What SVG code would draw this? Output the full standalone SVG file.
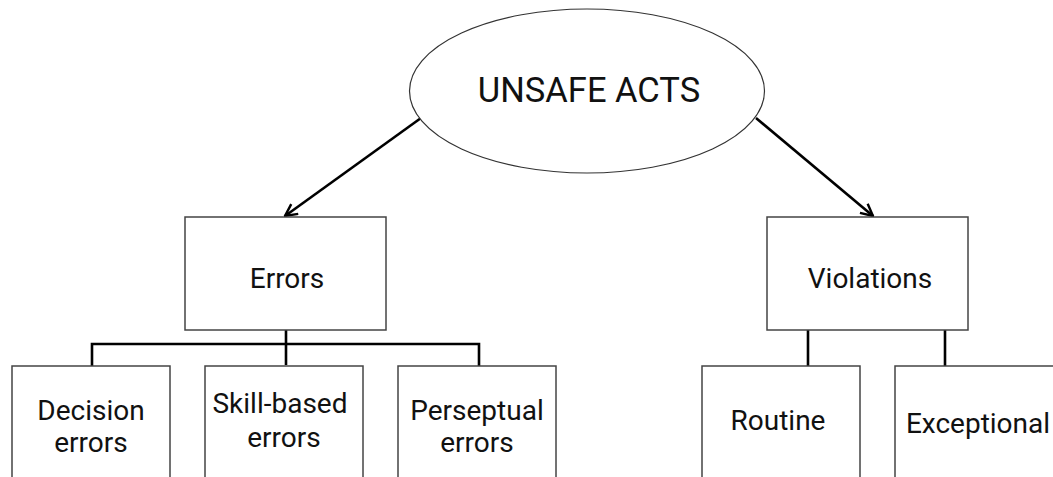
<svg xmlns="http://www.w3.org/2000/svg" width="1053" height="477" viewBox="0 0 1053 477">
  <defs>
    <style>
      .box { fill: #ffffff; stroke: #444444; stroke-width: 1.5; }
      .oval { fill: #ffffff; stroke: #333333; stroke-width: 1.2; }
      .label { font-family: Roboto, "Liberation Sans", sans-serif; font-size: 28px; fill: #111111; text-anchor: middle; }
      .title { font-size: 34.5px; }
      .link { fill: none; stroke: #000000; stroke-width: 2.6; }
    </style>
    <marker id="open-arrow" viewBox="0 0 14 14" refX="13" refY="7" markerWidth="14" markerHeight="14" markerUnits="userSpaceOnUse" orient="auto">
      <path d="M1,1 L13,7 L1,13" fill="none" stroke="#000000" stroke-width="2.4"/>
    </marker>
  </defs>
  <rect width="1053" height="477" fill="#ffffff"/>

  <g id="connectors">
    <line class="link" x1="421" y1="118" x2="285" y2="216" marker-end="url(#open-arrow)"/>
    <line class="link" x1="756" y1="118" x2="873" y2="216" marker-end="url(#open-arrow)"/>
    <path class="link" d="M286,330 V365 M92,366 V344 H479 V366"/>
    <path class="link" d="M808,330 V366 M945,330 V366"/>
  </g>

  <g id="unsafe-acts">
    <ellipse class="oval" cx="587" cy="91" rx="177.5" ry="82"/>
    <text class="label title" x="589" y="102">UNSAFE ACTS</text>
  </g>

  <g id="errors">
    <rect class="box" x="185" y="217" width="201" height="113"/>
    <text class="label" x="287" y="288">Errors</text>
  </g>

  <g id="violations">
    <rect class="box" x="767" y="217" width="201" height="113"/>
    <text class="label" x="870" y="288">Violations</text>
  </g>

  <g id="decision-errors">
    <rect class="box" x="12" y="366" width="158" height="130"/>
    <text class="label" x="91" y="420">Decision</text>
    <text class="label" x="91" y="452">errors</text>
  </g>

  <g id="skill-based-errors">
    <rect class="box" x="205" y="366" width="158" height="130"/>
    <text class="label" x="280" y="413">Skill-based</text>
    <text class="label" x="284" y="447">errors</text>
  </g>

  <g id="perseptual-errors">
    <rect class="box" x="398" y="366" width="158" height="130"/>
    <text class="label" x="477" y="420">Perseptual</text>
    <text class="label" x="477" y="452">errors</text>
  </g>

  <g id="routine">
    <rect class="box" x="702" y="366" width="158" height="130"/>
    <text class="label" x="778" y="430">Routine</text>
  </g>

  <g id="exceptional">
    <rect class="box" x="895" y="366" width="170" height="130"/>
    <text class="label" x="978" y="433">Exceptional</text>
  </g>
</svg>
